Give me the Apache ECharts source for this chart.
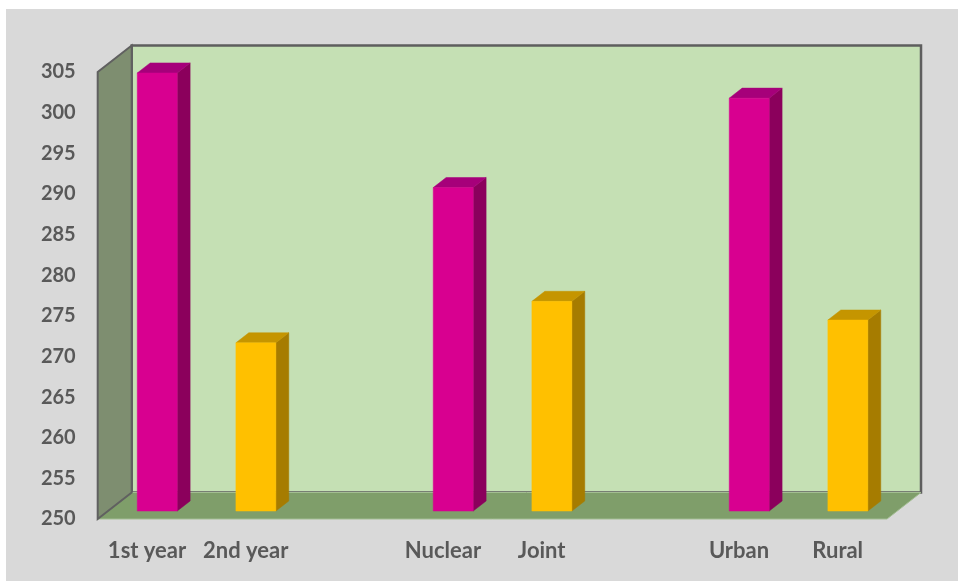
<!DOCTYPE html>
<html>
<head>
<meta charset="utf-8">
<script src="https://cdn.jsdelivr.net/npm/echarts@6/dist/echarts.min.js"></script>
<style>
  html, body { margin: 0; padding: 0; background: #ffffff; }
  #chart { position: absolute; left: 6px; top: 9px; width: 952px; height: 572px; background: #d9d9d9; }
</style>
</head>
<body>
<div id="chart"></div>
<script>
// Categories (blank slots separate the three groups)
const categories = ['1st year', '2nd year', '', 'Nuclear', 'Joint', '', 'Urban', 'Rural'];
// First bar of each pair (magenta) and second bar (yellow)
const firstValues  = [303.9, null, null, 289.8, null, null, 300.8, null];
const secondValues = [null, 270.7, null, null, 275.8, null, null, 273.5];
// Value axis range and step
const yMin = 250;
const yMax = 305;
const yStep = 5;

// Oblique 3D depth of the plot box, in pixels
const DEPTH_X = 34;
const DEPTH_Y = 26.5;
// Bars sit between these fractions of the depth
const F0 = 0.3;
const F1 = 0.68;
const BAR_RATIO = 0.405;

const magenta = { front: '#d80090', side: '#8b005c', top: '#a6007a' };
const yellow  = { front: '#ffc000', side: '#a67c00', top: '#c59500' };

function toData(arr) {
  const out = [];
  arr.forEach(function (v, i) { if (v != null) out.push([i, v]); });
  return out;
}

function renderWalls(params, api) {
  const cs = params.coordSys;
  const x = cs.x, y = cs.y, w = cs.width, h = cs.height;
  const b = y + h;
  return {
    type: 'group',
    children: [
      { // back wall
        type: 'rect',
        shape: { x: x + DEPTH_X, y: y - DEPTH_Y, width: w, height: h },
        style: { fill: '#c5e0b4', stroke: '#5e5e5e', lineWidth: 2.5 }
      },
      { // floor
        type: 'polygon',
        shape: { points: [[x, b], [x + w, b], [x + w + DEPTH_X, b - DEPTH_Y], [x + DEPTH_X, b - DEPTH_Y]] },
        style: { fill: '#7f9e6a', stroke: '#a3bd92', lineWidth: 1 }
      },
      { // left side wall
        type: 'polygon',
        shape: { points: [[x, y], [x + DEPTH_X, y - DEPTH_Y], [x + DEPTH_X, b - DEPTH_Y], [x, b]] },
        style: { fill: '#7e8e70', stroke: '#606060', lineWidth: 2 }
      }
    ]
  };
}

function boxRenderer(palette) {
  return function (params, api) {
    const i = api.value(0);
    const v = api.value(1);
    const topPt = api.coord([i, v]);
    const basePt = api.coord([i, yMin]);
    const band = api.size([1, 0])[0];
    const w = band * BAR_RATIO;
    const ox = DEPTH_X * F0, oy = DEPTH_Y * F0;
    const dx = DEPTH_X * (F1 - F0), dy = DEPTH_Y * (F1 - F0);
    const x0 = topPt[0] - w / 2 + ox;
    const x1 = x0 + w;
    const yT = topPt[1] - oy;
    const yB = basePt[1] - oy;
    return {
      type: 'group',
      children: [
        {
          type: 'polygon',
          shape: { points: [[x1, yT], [x1 + dx, yT - dy], [x1 + dx, yB - dy], [x1, yB]] },
          style: { fill: palette.side, stroke: palette.side, lineWidth: 0.5 }
        },
        {
          type: 'polygon',
          shape: { points: [[x0, yT], [x0 + dx, yT - dy], [x1 + dx, yT - dy], [x1, yT]] },
          style: { fill: palette.top, stroke: palette.top, lineWidth: 0.5 }
        },
        {
          type: 'rect',
          shape: { x: x0, y: yT, width: w, height: yB - yT },
          style: { fill: palette.front, stroke: palette.front, lineWidth: 0.5 }
        }
      ]
    };
  };
}

const chart = echarts.init(document.getElementById('chart'), null, { renderer: 'canvas' });
const labelFont = { color: '#595959', fontFamily: 'Lato', fontWeight: 'bold' };

chart.setOption({
  backgroundColor: '#d9d9d9',
  animation: false,
  grid: { left: 91.7, right: 71, top: 63, bottom: 62 },
  xAxis: {
    type: 'category',
    data: categories,
    axisLine: { show: false },
    axisTick: { show: false },
    splitLine: { show: false },
    axisLabel: Object.assign({ interval: 0, margin: 21, fontSize: 22 }, labelFont)
  },
  yAxis: {
    type: 'value',
    min: yMin,
    max: yMax,
    interval: yStep,
    axisLine: { show: false },
    axisTick: { show: false },
    splitLine: { show: false },
    axisLabel: Object.assign({ margin: 22, fontSize: 20 }, labelFont)
  },
  series: [
    {
      type: 'custom',
      z: 1,
      silent: true,
      renderItem: renderWalls,
      data: [[0, yMin]]
    },
    {
      type: 'custom',
      z: 2,
      renderItem: boxRenderer(magenta),
      data: toData(firstValues)
    },
    {
      type: 'custom',
      z: 2,
      renderItem: boxRenderer(yellow),
      data: toData(secondValues)
    }
  ]
});
</script>
</body>
</html>
